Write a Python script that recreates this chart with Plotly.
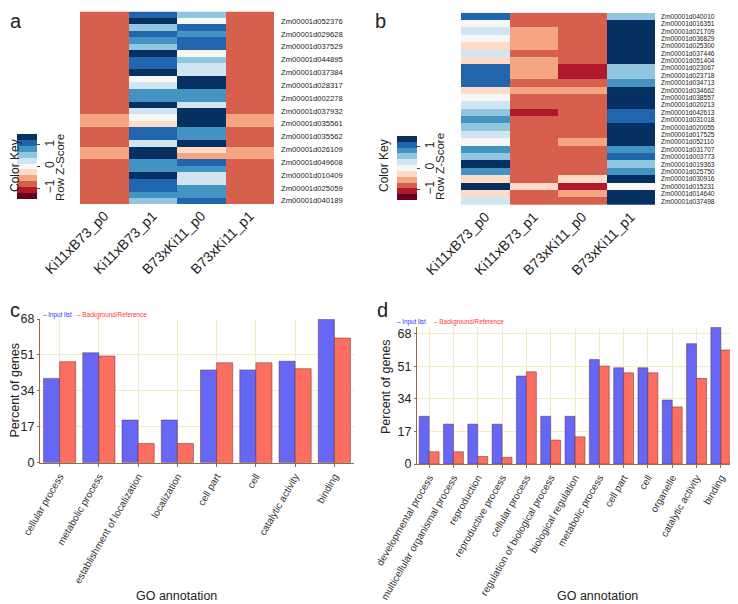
import plotly.graph_objects as go

W, H = 738, 604
# the page body adds an 8px margin, so layout pixels are given in window coordinates
OX, OY = 8, 8

samples = ["Ki11xB73_p0", "Ki11xB73_p1", "B73xKi11_p0", "B73xKi11_p1"]

a_genes = ["Zm00001d052376", "Zm00001d029628", "Zm00001d037529", "Zm00001d044895",
           "Zm00001d037384", "Zm00001d028317", "Zm00001d002278", "Zm00001d037932",
           "Zm00001d035561", "Zm00001d035562", "Zm00001d026109", "Zm00001d049608",
           "Zm00001d010409", "Zm00001d025059", "Zm00001d040189"]
a_rows = list(range(30))
a_ki_p0 = [-0.82] * 16 + [-0.55, -0.55, -0.82, -0.82, -0.82, -0.55, -0.55] + [-0.82] * 7
a_ki_p1 = [1.09, 1.36, 0.55, 1.09, 0.82, 0.55, 1.36, 1.09, 1.09, 1.36,
           0.0, 0.27, 0.82, 0.82, 1.36, 0.27, 0.0, -0.27, 1.09, 1.09,
           0.27, 1.36, 1.36, 0.82, 0.82, 1.36, 1.09, 1.09, 0.82, 0.55]
a_b73_p0 = [0.55, 0.0, 1.09, 0.82, 1.09, 1.09, 0.0, 0.55, 0.27, 0.27,
            1.36, 1.36, 0.82, 0.82, 0.27, 1.36, 1.36, 1.36, 0.82, 0.82,
            1.36, -0.27, -0.55, 1.09, 0.82, 0.27, 0.27, 0.82, 0.82, 1.09]
a_b73_p1 = list(a_ki_p0)

b_genes = ["Zm00001d040010", "Zm00001d016351", "Zm00001d021709", "Zm00001d036829",
           "Zm00001d025300", "Zm00001d037446", "Zm00001d051404", "Zm00001d023067",
           "Zm00001d023718", "Zm00001d034713", "Zm00001d034662", "Zm00001d038557",
           "Zm00001d020213", "Zm00001d042613", "Zm00001d031018", "Zm00001d020055",
           "Zm00001d017525", "Zm00001d052110", "Zm00001d031707", "Zm00001d003773",
           "Zm00001d019363", "Zm00001d025750", "Zm00001d030916", "Zm00001d015231",
           "Zm00001d014640", "Zm00001d037498"]
b_rows = list(range(26))
b_ki_p0 = [1.09, 0.0, 0.27, 0.0, -0.27, 0.27, -0.27, 1.09, 1.09, 1.09,
           -0.27, 0.0, 0.27, 0.55, 0.82, 0.55, 0.27, 0.0, 0.82, 0.55,
           1.36, 0.82, -0.27, 1.36, -0.27, 0.27]
b_ki_p1 = [-0.82, -0.82, -0.55, -0.55, -0.55, -0.82, -0.55, -0.55, -0.55, -0.82,
           -0.55, -0.82, -0.82, -1.09, -0.82, -0.82, -0.82, -0.82, -0.82, -0.82,
           -0.82, -0.82, -0.82, -0.27, -0.82, -0.82]
b_b73_p0 = [-0.82, -0.82, -0.82, -0.82, -0.82, -0.82, -0.82, -1.09, -1.09, -0.82,
            -0.55, -0.82, -0.82, -0.82, -0.82, -0.82, -0.82, -0.55, -0.82, -0.82,
            -0.82, -0.82, -0.27, -1.09, -0.55, -0.82]
b_b73_p1 = [0.55, 1.36, 1.36, 1.36, 1.36, 1.36, 1.36, 0.55, 0.55, 0.82,
            1.36, 1.36, 1.36, 1.09, 1.09, 1.36, 1.36, 1.36, 0.82, 1.09,
            0.55, 0.82, 1.36, 0.0, 1.36, 1.36]

key_colors = ["#67001f", "#b2182b", "#d6604d", "#f4a582", "#fddbc7", "#f7f7f7",
              "#d1e5f0", "#92c5de", "#4393c3", "#2166ac", "#053061"]
key_ticks = [-1, 0, 1]

# ---- GO bar data ----
c_terms = ["cellular process", "metabolic process", "establishment of localization",
           "localization", "cell part", "cell", "catalytic activity", "binding"]
c_input = [39.9, 52.0, 20.2, 20.2, 43.9, 43.9, 48.0, 67.8]
c_background = [47.8, 50.5, 9.1, 9.1, 47.3, 47.3, 44.5, 59.0]

d_terms = ["developmental process", "multicellular organismal process", "reproduction",
           "reproductive process", "cellular process", "regulation of biological process",
           "biological regulation", "metabolic process", "cell part", "cell", "organelle",
           "catalytic activity", "binding"]
d_input = [24.9, 20.8, 20.8, 20.8, 45.9, 24.9, 24.9, 54.5, 50.2, 50.2, 33.4, 62.8, 71.3]
d_background = [6.4, 6.4, 3.9, 3.5, 48.1, 12.5, 14.2, 51.1, 47.6, 47.6, 29.8, 44.7, 59.5]
pct_ticks = [0, 17, 34, 51, 68]

FONT = "Liberation Sans, Arial, sans-serif"
BLUE = "#6767f7"
RED = "#fc6f60"
AXIS = "#9a6a45"
GRID = "#f3ebc3"


def px(x):
    return (x - OX) / W


def py(y):
    return 1 - (y - OY) / H


def stepped(colors):
    n = len(colors)
    out = []
    for i, c in enumerate(colors):
        out += [[i / n, c], [(i + 1) / n, c]]
    return out


scale = stepped(key_colors)

fig = go.Figure()


def colorbar(x0, y0, y1):
    return dict(x=px(x0), xanchor="left", y=py((y0 + y1) / 2), yanchor="middle",
                len=(y1 - y0) / H, lenmode="fraction", thickness=20, thicknessmode="pixels",
                xpad=0, ypad=0, outlinewidth=0, tickvals=key_ticks, ticks="outside",
                ticklen=3, tickangle=-90, tickfont=dict(size=12, family=FONT, color="#222"))


fig.add_trace(go.Heatmap(
    z=[list(r) for r in zip(a_ki_p0, a_ki_p1, a_b73_p0, a_b73_p1)],
    x=samples, y=a_rows, colorscale=scale, zmin=-1.5, zmax=1.5,
    xaxis="x", yaxis="y", colorbar=colorbar(17, 134, 199), hoverinfo="z"))

fig.add_trace(go.Heatmap(
    z=[list(r) for r in zip(b_ki_p0, b_ki_p1, b_b73_p0, b_b73_p1)],
    x=samples, y=b_rows, colorscale=scale, zmin=-1.5, zmax=1.5,
    xaxis="x2", yaxis="y2", colorbar=colorbar(397, 136, 200), hoverinfo="z"))

bar_line = dict(width=0.8, color="rgba(90,45,40,0.6)")
for terms, inp, bg, xa, ya in [(c_terms, c_input, c_background, "x3", "y3"),
                               (d_terms, d_input, d_background, "x4", "y4")]:
    fig.add_trace(go.Bar(x=terms, y=inp, name="Input list", marker=dict(color=BLUE, line=bar_line),
                         xaxis=xa, yaxis=ya, showlegend=False))
    fig.add_trace(go.Bar(x=terms, y=bg, name="Background/Reference",
                         marker=dict(color=RED, line=bar_line),
                         xaxis=xa, yaxis=ya, showlegend=False))

heat_x = dict(tickangle=-45, tickfont=dict(size=14, family=FONT, color="#222"),
              showgrid=False, zeroline=False, showline=False, ticks="")
heat_y = dict(side="right", autorange="reversed", showgrid=False, zeroline=False,
              showline=False, ticks="")

bar_x = dict(showline=True, linecolor=AXIS, linewidth=1, showgrid=True, gridcolor=GRID,
             ticks="outside", ticklen=3, tickcolor=AXIS, tickangle=-60,
             tickfont=dict(size=10, family=FONT, color="#333"), zeroline=False)
bar_y = dict(showline=True, linecolor=AXIS, linewidth=1, showgrid=True, gridcolor=GRID,
             ticks="outside", ticklen=2, tickcolor=AXIS, tickvals=pct_ticks,
             tickfont=dict(size=12.5, family=FONT, color="#222"), zeroline=False)

fig.update_layout(
    width=W, height=H, margin=dict(l=0, r=0, t=0, b=0, autoexpand=False),
    paper_bgcolor="white", plot_bgcolor="white",
    font=dict(family=FONT, color="#222"),
    barmode="group", bargap=0.18, bargroupgap=0,
    xaxis=dict(domain=[px(80), px(274)], anchor="y", **heat_x),
    yaxis=dict(domain=[py(204), py(11.5)], anchor="x",
               tickvals=a_rows[1::2], ticktext=a_genes, ticklabelstandoff=6,
               tickfont=dict(size=7.6, family=FONT, color="#222"), **heat_y),
    xaxis2=dict(domain=[px(461), px(655)], anchor="y2", **heat_x),
    yaxis2=dict(domain=[py(205), py(12.7)], anchor="x2",
                tickvals=b_rows, ticktext=b_genes, ticklabelstandoff=5,
                tickfont=dict(size=6.6, family=FONT, color="#222"), **heat_y),
    xaxis3=dict(domain=[px(40), px(354)], anchor="y3", **bar_x),
    yaxis3=dict(domain=[py(462.7), py(319)], anchor="x3", range=[0, 68], **bar_y),
    xaxis4=dict(domain=[px(417), px(733)], anchor="y4", **bar_x),
    yaxis4=dict(domain=[py(464), py(327)], anchor="x4", range=[0, 71.5], **bar_y),
)


def note(text, x, y, size, angle=0, color="#222", family=FONT, xanchor="center",
         yanchor="middle"):
    fig.add_annotation(text=text, x=px(x), y=py(y), xref="paper", yref="paper",
                       showarrow=False, textangle=angle, xanchor=xanchor, yanchor=yanchor,
                       font=dict(size=size, color=color, family=family))


for letter, x, y in [("a", 8, 8), ("b", 373, 8), ("c", 8, 297), ("d", 375, 297)]:
    note(letter, x, y, 20, xanchor="left", yanchor="top")

for x_ck, x_rz in [(15, 60), (384, 440)]:
    note("Color Key", x_ck, 166, 12, angle=-90)
    note("Row Z-Score", x_rz, 167, 11.5, angle=-90)

for x_in, x_bg, y in [(41, 75, 315), (395, 432, 322)]:
    note("\u2013 Input list", x_in, y, 6.3, color="#3333ff", xanchor="left")
    note("\u2013 Background/Reference", x_bg, y, 6.3, color="#ff3333", xanchor="left")

note("Percent of genes", 14.5, 390, 12.5, angle=-90)
note("Percent of genes", 386, 387, 12.5, angle=-90)
note("GO annotation", 176, 596, 12.5)
note("GO annotation", 597, 596, 12.5)

fig.write_html("out.html")
